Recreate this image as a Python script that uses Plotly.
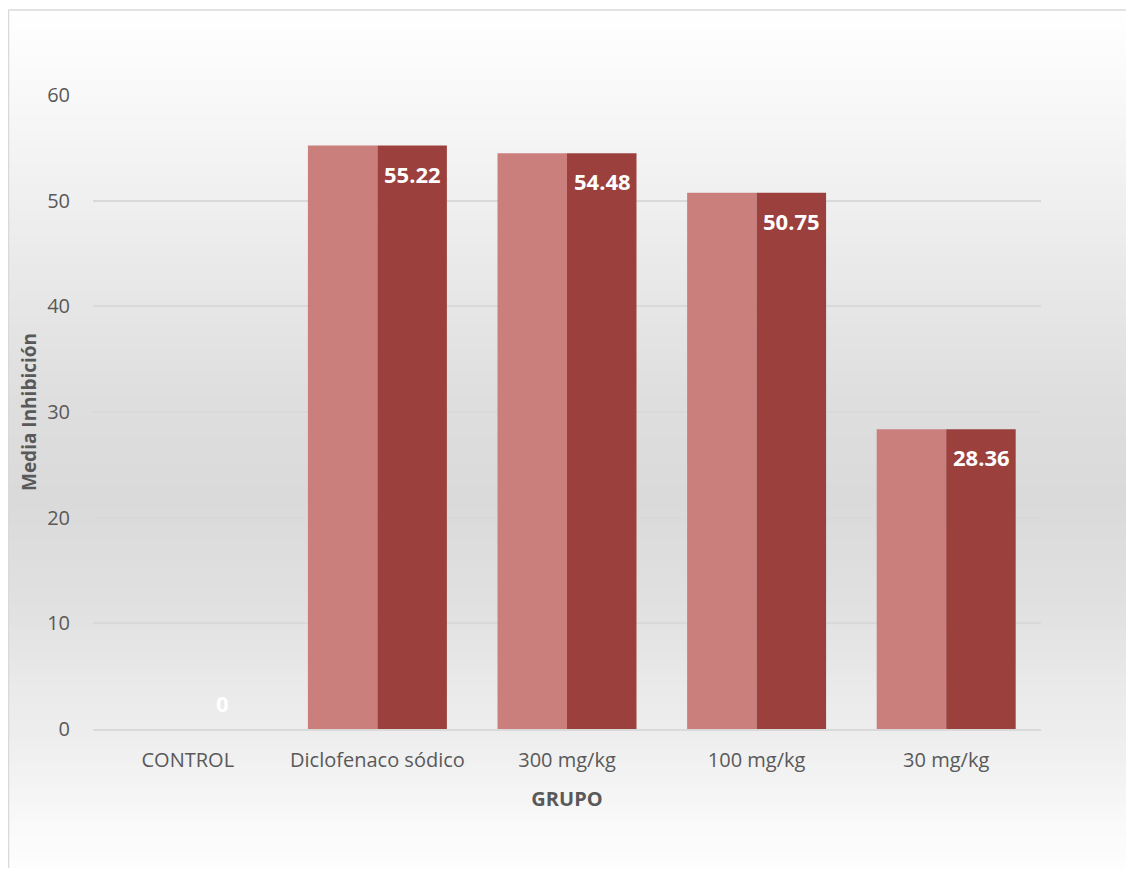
import plotly.graph_objects as go

# ---- data ----
categories = ["CONTROL", "Diclofenaco sódico", "300 mg/kg", "100 mg/kg", "30 mg/kg"]
inhibition = [0, 55.22, 54.48, 50.75, 28.36]
value_labels = ["0", "55.22", "54.48", "50.75", "28.36"]
y_ticks = [0, 10, 20, 30, 40, 50, 60]

# ---- layout geometry (figure pixels; page has an 8px body margin) ----
W, H = 1126, 860
L, R, T, B = 85, 93, 87, 139
pw, ph = W - L - R, H - T - B

def px_x(p):
    return (p - L) / pw

def px_y(p):
    return (H - B - p) / ph

fig = go.Figure()

fig.add_trace(go.Bar(
    x=categories, y=inhibition, name="light",
    marker=dict(color="#CA7F7D", line=dict(width=0)),
    hoverinfo="skip", showlegend=False,
))
fig.add_trace(go.Bar(
    x=categories, y=inhibition, name="dark",
    marker=dict(color="#9C403E", line=dict(width=0)),
    hoverinfo="skip", showlegend=False,
))

# value labels on the dark half
for c, v, t in zip(categories, inhibition, value_labels):
    fig.add_annotation(
        x=c, y=v, xref="x", yref="y", text=t, showarrow=False,
        xshift=35, yshift=(-28 if v > 0 else 26), yanchor="middle",
        font=dict(family="Open Sans", size=22, color="white", weight="bold"),
    )

# background gradient (chart area style), in figure pixel rows
stops = [(2, 255), (92, 248), (242, 235), (392, 222), (492, 218), (592, 224),
         (692, 235), (721, 237), (772, 243), (822, 250), (860, 253)]
shapes = []
band = 5
y = 2
while y < H:
    y2 = min(y + band, H)
    mid = (y + y2) / 2
    g = 255
    for (a, ga), (b, gb) in zip(stops[:-1], stops[1:]):
        if a <= mid <= b:
            g = round(ga + (gb - ga) * (mid - a) / (b - a))
            break
    shapes.append(dict(
        type="rect", xref="paper", yref="paper", layer="below",
        x0=px_x(0), x1=px_x(W + 5), y0=px_y(y2 + 0.5), y1=px_y(y),
        fillcolor=f"rgb({g},{g},{g})", line=dict(width=0),
    ))
    y = y2

# outer border (top and left edges)
border = dict(color="#D9D9D9", width=1.5)
shapes.append(dict(type="line", xref="paper", yref="paper", x0=px_x(0.5), x1=px_x(W + 5),
                   y0=px_y(2), y1=px_y(2), line=border))
shapes.append(dict(type="line", xref="paper", yref="paper", x0=px_x(0.5), x1=px_x(0.5),
                   y0=px_y(2), y1=px_y(H + 5), line=border))

fig.update_layout(
    width=W, height=H,
    margin=dict(l=L, r=R, t=T, b=B, autoexpand=False),
    paper_bgcolor="white", plot_bgcolor="rgba(0,0,0,0)",
    barmode="group", bargap=0.267, bargroupgap=0,
    showlegend=False,
    shapes=shapes,
    font=dict(family="Open Sans", color="#595959"),
    xaxis=dict(
        type="category", showgrid=False, showline=True, linecolor="#D9D9D9", linewidth=2,
        ticks="", tickfont=dict(size=20, color="#595959"), ticklabelstandoff=12,
        title=dict(text="GRUPO", font=dict(size=20, color="#595959", weight="bold"), standoff=20),
        automargin=False, fixedrange=True,
    ),
    yaxis=dict(
        range=[0, 60], tickvals=y_ticks, showgrid=True, gridcolor="#D9D9D9", gridwidth=2,
        zeroline=False, showline=False, ticks="",
        tickfont=dict(size=20, color="#595959"), ticklabelstandoff=22,
        title=dict(text="Media Inhibición", font=dict(size=19, color="#595959", weight="bold"), standoff=5),
        automargin=False, fixedrange=True,
    ),
)

fig.write_html("out.html")
